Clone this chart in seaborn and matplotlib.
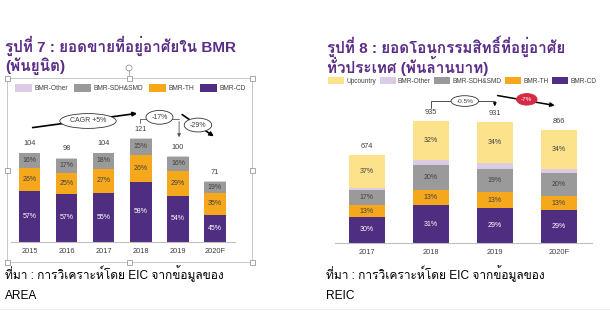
import numpy as np
import pandas as pd
import matplotlib
matplotlib.use("Agg")
import matplotlib.pyplot as plt
import seaborn as sns
from matplotlib import font_manager
from matplotlib.ft2font import FT2Font
from matplotlib.patches import Patch, Rectangle, Circle

# ---------------- data ----------------
years_l = ["2015", "2016", "2017", "2018", "2019", "2020F"]
totals_l = [104, 98, 104, 121, 100, 71]
cd_l = [57, 57, 55, 58, 54, 45]
th_l = [26, 25, 27, 26, 29, 35]
sdh_l = [16, 17, 18, 15, 16, 19]
other_l = [1, 1, 0, 1, 1, 1]

years_r = ["2017", "2018", "2019", "2020F"]
totals_r = [674, 935, 931, 866]
cd_r = [30, 31, 29, 29]
th_r = [13, 13, 13, 13]
sdh_r = [17, 20, 19, 20]
other_r = [3, 4, 5, 4]
up_r = [37, 32, 34, 34]

# ---------------- fonts ----------------
sns.set_theme(style="white")
thai = None
for f in font_manager.fontManager.ttflist:
    try:
        if 0x0E01 in FT2Font(f.fname).get_charmap():
            thai = f.name
            break
    except Exception:
        pass
fams = ["Liberation Sans"] + ([thai] if thai else []) + ["DejaVu Sans"]
plt.rcParams["font.family"] = fams

C_CD = "#4f2d80"
C_TH = "#f6a81d"
C_SDH = "#9a9a9a"
C_OT = "#dccbe5"
C_UP = "#fde28c"
PURPLE = "#5b2d86"
TXT = "#404040"

W, H = 610, 336
fig = plt.figure(figsize=(W / 100, H / 100), dpi=100)


def px_axes(x0, y_top, x1, y_bot):
    return fig.add_axes([x0 / W, 1 - y_bot / H, (x1 - x0) / W, (y_bot - y_top) / H])


def stacked(ax, cats, totals, pcts, colors, labcolors, width, ymax):
    ax.set_ylim(0, ymax)
    pcts = np.array(pcts, dtype=float)
    vals = pcts / 100.0 * np.array(totals)[None, :]
    cum = np.cumsum(vals, axis=0)
    for i in range(len(pcts) - 1, -1, -1):
        df = pd.DataFrame({"cat": cats, "v": cum[i]})
        sns.barplot(data=df, x="cat", y="v", color=colors[i], width=width,
                    saturation=1, ax=ax, order=cats, edgecolor="none")
    for i in range(len(pcts)):
        for j in range(len(cats)):
            if pcts[i, j] >= 10:
                ymid = cum[i, j] - vals[i, j] / 2
                ax.text(j, ymid, f"{int(pcts[i, j])}%", ha="center", va="center",
                        fontsize=5, color=labcolors[i])
    for j in range(len(cats)):
        ax.text(j, totals[j] + ymax * 0.035, str(totals[j]), ha="center",
                va="bottom", fontsize=5.3, color=TXT)
    ax.set_xlabel("")
    ax.set_ylabel("")
    ax.set_yticks([])
    for s in ["left", "right", "top"]:
        ax.spines[s].set_visible(False)
    ax.spines["bottom"].set_color("#bfbfbf")
    ax.spines["bottom"].set_linewidth(0.8)
    ax.tick_params(axis="x", length=0, labelsize=5.3, labelcolor=TXT, pad=4)
    ax.set_ylim(0, ymax)


# ---------------- left chart ----------------
axl = px_axes(11, 92, 235, 242)
stacked(axl, years_l, totals_l, [cd_l, th_l, sdh_l, other_l],
        [C_CD, C_TH, C_SDH, C_OT], ["white", TXT, TXT, TXT], 0.57, 150 / 0.86)
axl.set_xlim(-0.51, 5.54)

# annotations left
ak = dict(arrowstyle="-|>", color="black", lw=1.2, mutation_scale=6)
axl.annotate("", xy=(2.97, 150), xytext=(0, 132.6), arrowprops=ak, annotation_clip=False)
axl.text(1.57, 140.7, "CAGR +5%", ha="center", va="center", fontsize=5, color=TXT,
         bbox=dict(boxstyle="ellipse,pad=0.25", fc="white", ec="#333333", lw=0.6))
axl.plot([2.97, 2.97, 4.03], [138, 143, 143], color="#555555", lw=0.6, clip_on=False)
axl.annotate("", xy=(4.03, 118.6), xytext=(4.03, 143.3),
             arrowprops=dict(arrowstyle="-|>", color="#555555", lw=0.6, mutation_scale=5),
             annotation_clip=False)
axl.text(3.5, 145, "-17%", ha="center", va="center", fontsize=5, color=TXT,
         bbox=dict(boxstyle="ellipse,pad=0.2", fc="white", ec="#333333", lw=0.6))
axl.annotate("", xy=(5.03, 121), xytext=(4.05, 150), arrowprops=ak, annotation_clip=False)
axl.text(4.54, 136, "-29%", ha="center", va="center", fontsize=5, color=TXT,
         bbox=dict(boxstyle="ellipse,pad=0.2", fc="white", ec="#333333", lw=0.6))

hl = [Patch(fc=C_OT, ec="none", label="BMR-Other"),
      Patch(fc=C_SDH, ec="none", label="BMR-SDH&SMD"),
      Patch(fc=C_TH, ec="none", label="BMR-TH"),
      Patch(fc=C_CD, ec="none", label="BMR-CD")]
fig.legend(handles=hl, loc="center left", bbox_to_anchor=(15 / W, 1 - 88 / H), ncol=4,
           frameon=False, fontsize=4.8, handlelength=2.55, handleheight=1.5,
           handletextpad=0.35, columnspacing=0.9, borderpad=0, borderaxespad=0,
           labelcolor=TXT)

# ---------------- right chart ----------------
axr = px_axes(335, 92, 592, 243)
stacked(axr, years_r, totals_r, [cd_r, th_r, sdh_r, other_r, up_r],
        [C_CD, C_TH, C_SDH, C_OT, C_UP], ["white", TXT, TXT, TXT, TXT], 0.56, 151 / 0.13)
axr.set_xlim(-0.5, 3.52)

axr.plot([1.0, 1.0, 2.0], [1038, 1092, 1092], color="#333333", lw=0.6, clip_on=False)
axr.annotate("", xy=(2.0, 1030), xytext=(2.0, 1094),
             arrowprops=dict(arrowstyle="-|>", color="black", lw=0.6, mutation_scale=5),
             annotation_clip=False)
axr.text(1.53, 1092, "-0.5%", ha="center", va="center", fontsize=4.6, color=TXT,
         bbox=dict(boxstyle="ellipse,pad=0.2", fc="white", ec="#333333", lw=0.6))
axr.annotate("", xy=(2.98, 1054), xytext=(2.0, 1138),
             arrowprops=dict(arrowstyle="-|>", color="black", lw=1.1, mutation_scale=6),
             annotation_clip=False)
axr.text(2.5, 1105, "-7%", ha="center", va="center", fontsize=4.6, color="white",
         bbox=dict(boxstyle="ellipse,pad=0.25", fc="#d42a45", ec="#d42a45", lw=0.6))

hr = [Patch(fc=C_UP, ec="none", label="Upcountry")] + hl
fig.legend(handles=hr, loc="center left", bbox_to_anchor=(328 / W, 1 - 81 / H), ncol=5,
           frameon=False, fontsize=4.7, handlelength=2.45, handleheight=1.1,
           handletextpad=0.35, columnspacing=0.55, borderpad=0, borderaxespad=0,
           labelcolor=TXT)

# ---------------- titles & sources ----------------
fig.text(5 / W, 1 - 46 / H, "รูปที่ 7 : ยอดขายที่อยู่อาศัยใน BMR", fontsize=11,
         fontweight="bold", color=PURPLE, va="center", ha="left")
fig.text(5 / W, 1 - 66 / H, "(พันยูนิต)", fontsize=11, fontweight="bold",
         color=PURPLE, va="center", ha="left")
fig.text(327 / W, 1 - 46 / H, "รูปที่ 8 : ยอดโอนกรรมสิทธิ์ที่อยู่อาศัย", fontsize=11,
         fontweight="bold", color=PURPLE, va="center", ha="left")
fig.text(327 / W, 1 - 66 / H, "ทั่วประเทศ (พันล้านบาท)", fontsize=11, fontweight="bold",
         color=PURPLE, va="center", ha="left")

fig.text(5 / W, 1 - 274 / H, "ที่มา : การวิเคราะห์โดย EIC จากข้อมูลของ", fontsize=8.6,
         color="black", va="center", ha="left")
fig.text(5 / W, 1 - 296 / H, "AREA", fontsize=8.6, color="black", va="center", ha="left")
fig.text(326 / W, 1 - 274 / H, "ที่มา : การวิเคราะห์โดย EIC จากข้อมูลของ", fontsize=8.6,
         color="black", va="center", ha="left")
fig.text(326 / W, 1 - 296 / H, "REIC", fontsize=8.6, color="black", va="center", ha="left")

# selection frame around left chart
frame_kw = dict(transform=None, fill=False, ec="#c8c8c8", lw=0.7)
fig.patches.append(Rectangle((7, H - 262), 245, 184, **frame_kw))
for (hx, hy) in [(7, 78), (129, 78), (252, 78), (7, 170), (252, 170), (7, 262), (129, 262), (252, 262)]:
    fig.patches.append(Rectangle((hx - 2.5, H - hy - 2.5), 5, 5, transform=None,
                                 fc="white", ec="#9a9a9a", lw=0.6))
fig.lines.append(plt.Line2D([129, 129], [H - 75, H - 70], transform=None, color="#9a9a9a", lw=0.6))
fig.patches.append(Circle((129, H - 68), 3, transform=None, fc="white", ec="#9a9a9a", lw=0.6))
fig.lines.append(plt.Line2D([0, W], [H - 309, H - 309], transform=None, color="#eeeeee", lw=0.8))

fig.savefig("out.png", dpi=100)
